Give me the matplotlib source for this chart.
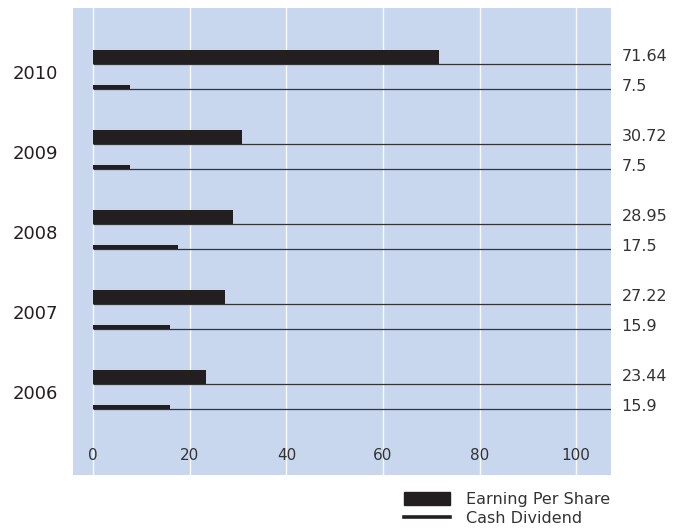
import numpy as np
import matplotlib
matplotlib.use("Agg")
import matplotlib.pyplot as plt
from matplotlib.patches import Patch
from matplotlib.lines import Line2D

# data
years = ["2010", "2009", "2008", "2007", "2006"]
eps = [71.64, 30.72, 28.95, 27.22, 23.44]
dividend = [7.5, 7.5, 17.5, 15.9, 15.9]
eps_labels = ["71.64", "30.72", "28.95", "27.22", "23.44"]
div_labels = ["7.5", "7.5", "17.5", "15.9", "15.9"]
xticks = [0, 20, 40, 60, 80, 100]

bg = "#c8d6ee"
dark = "#231f20"

fig = plt.figure(figsize=(6.82, 5.29), dpi=100)
ax = fig.add_axes([73 / 682, 1 - 475 / 529, (611 - 73) / 682, (475 - 8) / 529])
ax.set_facecolor(bg)

xmin, xmax = -4.2, 107.2
ax.set_xlim(xmin, xmax)
ax.set_ylim(5.04, -0.8)

pos = np.arange(len(years))
off = 0.1875
h_eps = 0.175
h_div = 0.05

# grid
for t in xticks:
    ax.axvline(t, color="white", lw=1.0, alpha=0.9, zorder=1)

# bars
ax.barh(pos - off, eps, height=h_eps, color=dark, zorder=3)
ax.barh(pos + off, dividend, height=h_div, color=dark, zorder=3)

# baseline lines under each bar out to the right edge
ax.hlines(pos - off + h_eps / 2, 0, xmax, color="#333333", lw=0.9, zorder=2)
ax.hlines(pos + off + h_div / 2, 0, xmax, color="#333333", lw=0.9, zorder=2)

# value labels outside the plot
for i in range(len(years)):
    ax.text(xmax + 2.2, pos[i] - off, eps_labels[i], va="center", ha="left",
            fontsize=11.5, color="#333333", clip_on=False)
    ax.text(xmax + 2.2, pos[i] + off, div_labels[i], va="center", ha="left",
            fontsize=11.5, color="#333333", clip_on=False)

ax.set_yticks(pos)
ax.set_yticklabels(years, fontsize=13, color="#231f20")
ax.set_xticks(xticks)
ax.set_xticklabels([str(t) for t in xticks], fontsize=11, color="#333333")
ax.tick_params(axis="y", length=0, pad=10.8)
ax.tick_params(axis="x", length=0, pad=-19.5)
for s in ax.spines.values():
    s.set_visible(False)

handles = [Patch(facecolor=dark, edgecolor=dark),
           Line2D([0], [0], color=dark, lw=2.6)]
fig.legend(handles, ["Earning Per Share", "Cash Dividend"],
           loc="upper left", bbox_to_anchor=(404 / 682, 1 - 492 / 529),
           frameon=False, fontsize=11.5, borderpad=0, borderaxespad=0,
           handlelength=2.9, handleheight=0.8, handletextpad=1.0,
           labelspacing=0.25, labelcolor="#333333")

fig.savefig("out.png", dpi=100)
